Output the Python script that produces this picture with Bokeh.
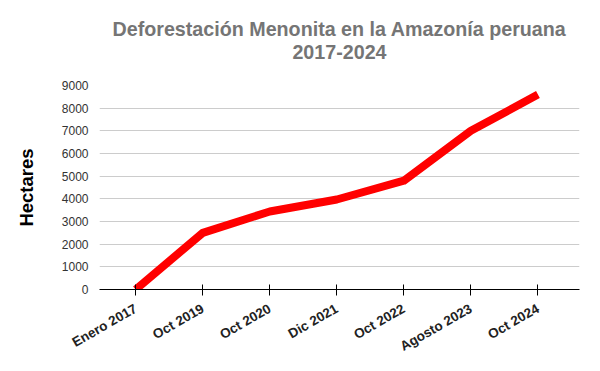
import math
from bokeh.plotting import figure
from bokeh.models import Range1d, FixedTicker, LinearAxis, ColumnDataSource
from bokeh.embed import file_html
from bokeh.resources import INLINE

title_lines = ["Deforestación Menonita en la Amazonía peruana", "2017-2024"]
categories = ["Enero 2017", "Oct 2019", "Oct 2020", "Dic 2021", "Oct 2022", "Agosto 2023", "Oct 2024"]
hectares = [0, 2500, 3440, 3970, 4800, 7000, 8600]
y_ticks = [0, 1000, 2000, 3000, 4000, 5000, 6000, 7000, 8000, 9000]

xs = list(range(len(categories)))
src = ColumnDataSource(dict(x=xs, y=hectares))

X0, X1 = -0.54, 6.62
FW, FH = 480, 204

p = figure(frame_width=FW, frame_height=FH, output_backend="svg", toolbar_location=None,
           x_range=Range1d(X0, X1), y_range=Range1d(0, 9000),
           min_border_left=99, min_border_right=20, min_border_bottom=66, min_border_top=85)
p.title.visible = False
p.title.text_font_size = "0px"
p.title.standoff = 0
p.outline_line_color = None
p.background_fill_color = "white"
p.border_fill_color = "white"

p.line("x", "y", source=src, line_color="#ff0000", line_width=8, line_join="round")

# x axis (the default one, below)
xa = p.below[0]
xa.ticker = FixedTicker(ticks=xs)
xa.major_label_overrides = {i: c for i, c in enumerate(categories)}
xa.major_label_orientation = 0.52
xa.major_label_text_font = "Liberation Sans"
xa.major_label_text_font_style = "bold"
xa.major_label_text_font_size = "13.5px"
xa.major_label_text_color = "#222222"
xa.axis_line_color = "black"
xa.major_tick_line_color = "black"
xa.major_tick_in = 5
xa.major_tick_out = 6
xa.minor_tick_line_color = None
xa.major_label_standoff = 12

# y axis
ya = p.left[0]
ya.ticker = FixedTicker(ticks=y_ticks)
ya.axis_line_color = None
ya.major_tick_line_color = None
ya.minor_tick_line_color = None
ya.major_label_text_font = "Liberation Sans"
ya.major_label_text_font_size = "12px"
ya.major_label_text_color = "#333333"
ya.major_label_standoff = 5
ya.axis_label = "Hectares"
ya.axis_label_text_font = "Liberation Sans"
ya.axis_label_text_font_style = "bold"
ya.axis_label_text_font_size = "18.5px"
ya.axis_label_text_color = "black"
ya.axis_label_standoff = 22

# two-line chart title as labels of tick-less axes above the frame,
# centred on the page (bounds symmetric about page x=300)
px_x = (X1 - X0) / FW
cx = X0 + 200 * px_x
for txt, standoff in [(title_lines[1], 27), (title_lines[0], 2)]:
    ax = LinearAxis(ticker=FixedTicker(ticks=[]), bounds=(X0, 2 * cx - X0),
                    axis_line_color=None, major_tick_line_color=None,
                    minor_tick_line_color=None, major_tick_in=0, major_tick_out=0,
                    minor_tick_in=0, minor_tick_out=0,
                    major_label_text_font_size="0px", major_label_standoff=0,
                    axis_label=txt, axis_label_standoff=standoff,
                    axis_label_text_font="Liberation Sans", axis_label_text_font_size="19.7px",
                    axis_label_text_font_style="bold", axis_label_text_color="#757575")
    p.add_layout(ax, "above")

p.xgrid.grid_line_color = None
p.ygrid.grid_line_color = "#cccccc"
p.ygrid.ticker = FixedTicker(ticks=y_ticks)

open("out.html", "w").write(file_html(p, INLINE))
